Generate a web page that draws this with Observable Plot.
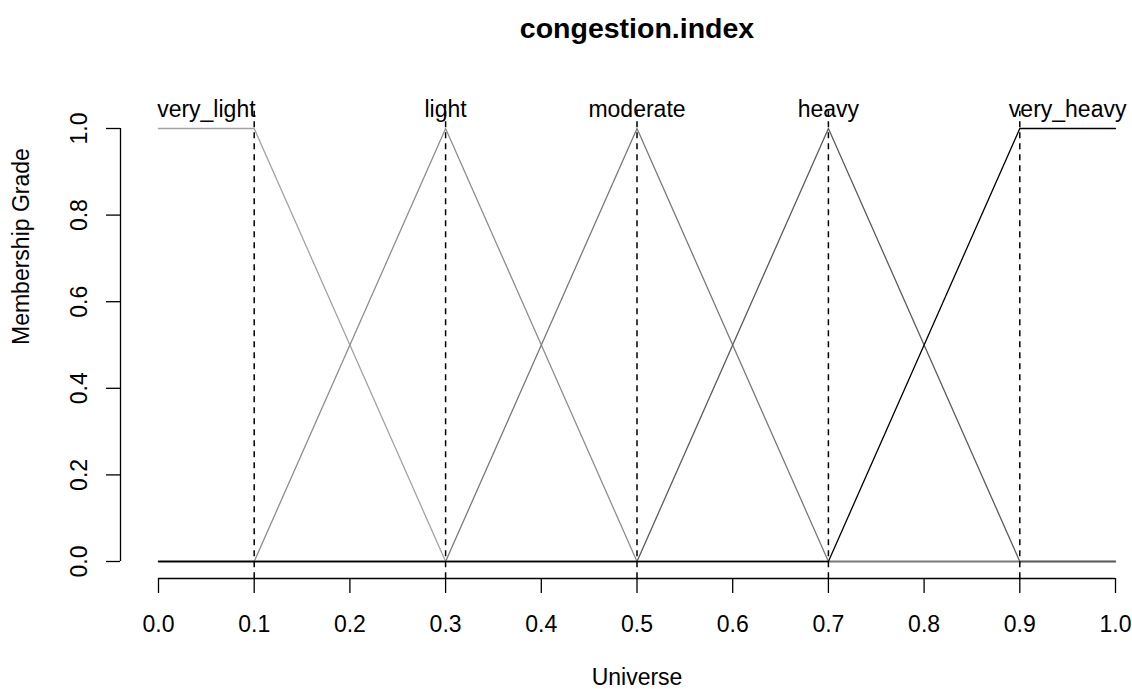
<!DOCTYPE html>
<html>
<head>
<meta charset="utf-8">
<script src="https://cdn.jsdelivr.net/npm/d3@7"></script>
<script src="https://cdn.jsdelivr.net/npm/@observablehq/plot@0.6"></script>
<style>
  html, body { margin: 0; padding: 0; background: #fff; }
</style>
</head>
<body>
<div id="chart"></div>
<script>
// ---- data ----
const chartTitle = "congestion.index";
const xLabel = "Universe";
const yLabel = "Membership Grade";
const setNames = ["very_light", "light", "moderate", "heavy", "very_heavy"];
const setColors = ["#a3a3a3", "#8e8e8e", "#7a7a7a", "#5c5c5c", "#000000"];
const setX = [
  [0, 0.1, 0.3, 1],
  [0, 0.1, 0.3, 0.5, 1],
  [0, 0.3, 0.5, 0.7, 1],
  [0, 0.5, 0.7, 0.9, 1],
  [0, 0.7, 0.9, 1]
];
const setY = [
  [1, 1, 0, 0],
  [0, 0, 1, 0, 0],
  [0, 0, 1, 0, 0],
  [0, 0, 1, 0, 0],
  [0, 0, 1, 1]
];
const peakX = [0.1, 0.3, 0.5, 0.7, 0.9];
const labelX = [0.05, 0.3, 0.5, 0.7, 0.95];
const xTicks = [0, 0.1, 0.2, 0.3, 0.4, 0.5, 0.6, 0.7, 0.8, 0.9, 1.0];
const yTicks = [0, 0.2, 0.4, 0.6, 0.8, 1.0];
const usrPad = 0.04; // R's 4% plot-region extension

// ---- build ----
const fmt = d3.format(".1f");
const lineMarks = setNames.map((name, i) =>
  Plot.line(setX[i].map((x, j) => ({x, y: setY[i][j]})), {
    x: "x", y: "y", stroke: setColors[i], strokeWidth: 1.3
  })
);
const labels = setNames.map((name, i) => ({name, x: labelX[i]}));

const W = 1132, H = 689;
const mL = 158, mR = 17, mT = 128, mB = 128;
const xOff = 38, yOff = 17;

const chart = Plot.plot({
  width: W,
  height: H,
  marginLeft: mL,
  marginRight: mR,
  marginTop: mT,
  marginBottom: mB,
  style: {fontFamily: "'Liberation Sans', Arial, sans-serif", fontSize: "23px", color: "#000", background: "#fff", overflow: "visible"},
  x: {domain: [0, 1]},
  y: {domain: [0, 1]},
  marks: [
    ...lineMarks,
    Plot.ruleX(peakX, {y1: -usrPad, y2: 1 + usrPad, stroke: "#000", strokeWidth: 1.5, strokeDasharray: "6,5"}),
    Plot.text(labels, {x: "x", y: () => 1, text: "name", lineAnchor: "bottom", dy: -12, fill: "#000", fontSize: 23}),
    // x axis
    Plot.ruleY([0], {x1: () => xTicks[0], x2: () => xTicks[xTicks.length - 1], dy: yOff, stroke: "#000", strokeWidth: 1.3}),
    Plot.axisX({ticks: xTicks, tickFormat: fmt, tickSize: 15, tickPadding: 22, dy: yOff, label: null, stroke: "#000", strokeWidth: 1.3, fill: "#000"}),
    // y axis
    Plot.ruleX([0], {y1: () => yTicks[0], y2: () => yTicks[yTicks.length - 1], dx: -xOff, stroke: "#000", strokeWidth: 1.3}),
    Plot.axisY({ticks: yTicks, tickFormat: () => "", tickSize: 14, dx: -xOff, label: null, stroke: "#000", strokeWidth: 1.3}),
    Plot.text(yTicks, {y: d => d, text: d => fmt(d), frameAnchor: "left", dx: -72, rotate: -90, lineAnchor: "bottom", textAnchor: "middle", fill: "#000"}),
    // titles
    Plot.text([chartTitle], {frameAnchor: "top", dy: -(mT - 28), lineAnchor: "middle", fontWeight: "bold", fontSize: 28.5, fill: "#000"}),
    Plot.text([xLabel], {frameAnchor: "bottom", dy: 116, lineAnchor: "middle", fill: "#000"}),
    Plot.text([yLabel], {frameAnchor: "left", dx: -137, rotate: -90, lineAnchor: "middle", fill: "#000"})
  ]
});
document.getElementById("chart").appendChild(chart);
</script>
</body>
</html>
